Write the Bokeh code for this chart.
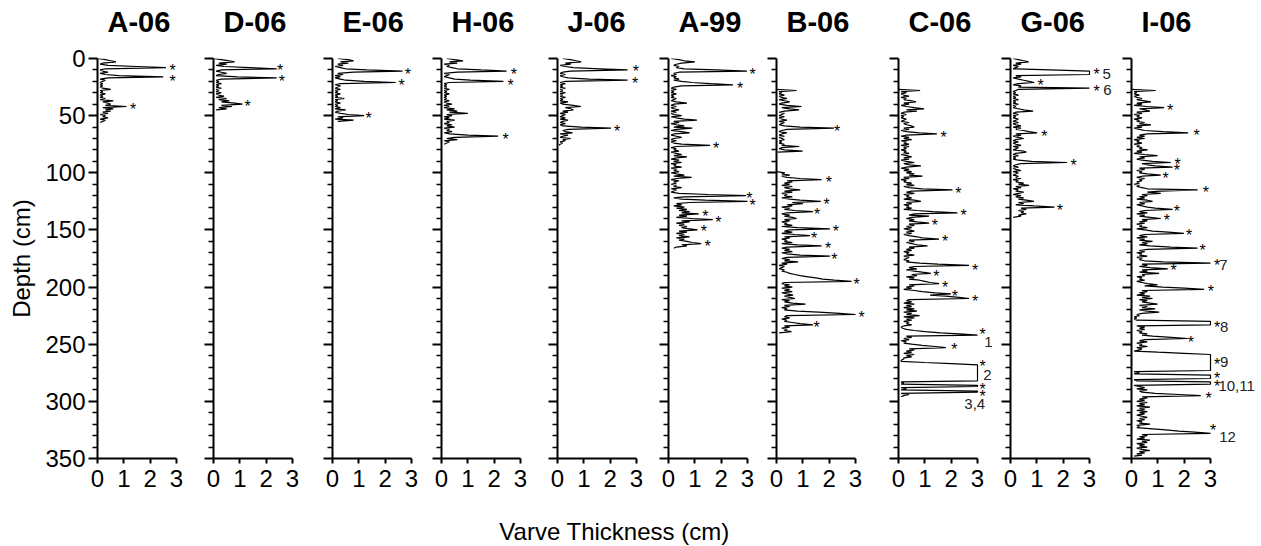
from bokeh.plotting import figure
from bokeh.layouts import row, column
from bokeh.models import Range1d, FixedTicker, Label
from bokeh.embed import file_html
from bokeh.resources import INLINE
from bokeh.core.properties import value

# ---------------- data (thickness in cm, one value per cm of depth) ----------------
CORES = ["A-06", "D-06", "E-06", "H-06", "J-06", "A-99", "B-06", "C-06", "G-06", "I-06"]

A06 = [0.0,0.3,0.5,0.7,0.2,0.1,0.4,1.5,2.6,0.3,
       0.1,0.2,0.4,0.1,0.3,0.8,2.5,0.4,0.1,0.3,
       0.2,0.1,0.2,0.1,0.2,0.1,0.2,0.5,0.1,0.2,
       0.1,0.3,0.1,0.2,0.1,0.3,0.1,0.6,0.2,0.4,
       0.5,0.3,1.1,0.2,0.6,0.3,0.5,0.2,0.4,0.1,
       0.3,0.2,0.4,0.1,0.3,0.2,0.1]
D06 = [0.0,0.3,0.6,0.8,0.2,0.5,0.1,0.4,1.4,2.4,
       0.3,0.1,0.3,0.5,0.2,0.1,0.9,2.4,0.3,0.1,
       0.2,0.1,0.3,0.1,0.2,0.1,0.3,0.1,0.2,0.1,
       0.3,0.1,0.2,0.4,0.1,0.5,0.2,0.6,0.3,0.8,
       1.1,0.3,0.7,0.2,0.5,0.1]
E06 = [0.2,0.6,0.8,0.3,0.6,0.2,0.4,0.1,0.3,0.5,
       1.3,2.66,0.8,0.2,0.4,0.1,0.3,0.1,0.3,0.5,
       1.2,2.4,0.3,0.1,0.3,0.2,0.1,0.3,0.1,0.2,
       0.1,0.3,0.1,0.2,0.1,0.45,0.1,0.2,0.1,0.3,
       0.1,0.2,0.1,0.3,0.1,0.5,0.2,0.1,0.3,0.6,
       1.2,0.2,0.4,0.1,0.8,0.2]
H06 = [0.2,0.5,0.82,0.3,0.6,0.1,0.3,0.2,0.4,0.6,
       1.5,2.47,0.6,0.1,0.3,0.2,0.1,0.3,0.5,1.1,
       2.35,0.3,0.1,0.2,0.1,0.2,0.1,0.3,0.1,0.2,
       0.1,0.3,0.1,0.2,0.1,0.2,0.1,0.3,0.1,0.2,
       0.4,0.1,0.3,0.1,0.5,0.2,0.6,0.3,1.0,0.2,
       0.4,0.1,0.3,0.1,0.5,0.2,0.3,0.1,0.4,0.2,
       0.5,0.1,0.3,0.2,0.4,0.1,0.3,1.0,2.15,0.5,
       0.2,0.6,0.1,0.3,0.2,0.1]
J06 = [0.2,0.5,0.7,0.9,0.3,0.5,0.1,0.3,0.6,1.6,
       2.66,0.5,0.2,0.1,0.3,0.1,0.2,0.4,1.2,2.66,
       0.3,0.1,0.3,0.1,0.2,0.1,0.3,0.1,0.2,0.1,
       0.3,0.1,0.2,0.1,0.3,0.1,0.2,0.1,0.4,0.1,
       0.2,0.6,0.89,0.3,0.5,0.6,0.2,0.4,0.1,0.3,
       0.2,0.1,0.3,0.1,0.4,0.2,0.1,0.3,0.1,0.2,
       0.9,2.03,0.4,0.2,0.3,0.57,0.1,0.4,0.2,0.1,
       0.5,0.2,0.3,0.1,0.2,0.1,0.05]
A99 = [0.1,0.4,0.6,1.0,0.5,0.3,0.2,0.4,0.3,0.6,
       1.8,2.98,0.4,0.2,0.3,0.1,0.3,0.2,0.4,0.2,
       0.5,0.9,1.6,2.45,0.5,0.2,0.1,0.3,0.1,0.2,
       0.1,0.3,0.1,0.2,0.1,0.3,0.2,0.1,0.3,0.7,
       0.2,0.1,0.3,0.1,0.2,0.4,0.1,0.3,0.1,0.2,
       0.5,0.1,0.3,0.6,1.08,0.2,0.4,0.1,0.3,0.6,
       0.2,0.9,0.3,0.1,0.5,0.8,0.2,0.1,0.3,0.5,
       0.2,0.1,0.3,0.1,0.2,0.5,1.58,0.3,0.1,0.3,
       0.2,0.4,0.1,0.3,0.5,0.2,0.7,0.3,0.1,0.4,
       0.2,0.5,0.1,0.3,0.2,0.5,0.1,0.3,0.2,0.4,
       0.1,0.3,0.6,0.2,0.88,0.3,0.1,0.4,0.2,0.3,
       0.1,0.3,0.2,0.5,0.1,0.3,0.2,0.1,0.4,1.5,
       2.95,0.6,0.2,0.5,1.4,3.0,0.8,0.3,0.5,0.2,
       0.6,0.3,0.7,0.4,0.8,0.5,1.15,0.4,0.7,0.3,
       0.9,1.68,0.5,0.8,0.3,0.6,0.4,0.7,0.5,0.8,
       1.1,0.4,0.7,0.3,0.6,0.4,0.8,0.3,0.6,0.4,
       0.7,0.9,1.24,0.5,0.7,0.3,0.2]
B06_UPPER = [0.0,0.76,0.1,0.2,0.1,0.3,0.1,0.2,0.4,0.1,0.3,
             0.5,0.2,0.1,0.4,0.95,0.2,0.5,0.86,0.3,0.1,
             0.3,0.2,0.1,0.3,0.1,0.2,0.4,0.1,0.3,0.2,
             0.1,0.3,0.9,2.18,0.4,0.2,0.1,0.4,0.2,0.1,
             0.3,0.1,0.2,0.3,0.1,0.2,0.1,0.3,0.2,0.86,
             0.2,0.1,0.3,0.99,0.05]
B06_LOWER = [0.0,0.32,0.2,0.5,0.2,0.4,0.9,1.71,0.4,0.6,0.3,
             0.5,0.2,0.6,0.3,0.5,0.9,0.3,0.6,0.2,0.4,
             0.3,0.6,0.2,0.5,0.9,1.68,0.6,1.0,0.4,0.6,
             0.2,0.5,0.3,0.7,1.39,0.4,0.2,0.5,0.3,0.6,
             0.76,0.3,0.5,0.2,0.4,0.3,0.6,0.2,0.8,2.03,
             0.5,0.3,0.6,0.2,0.7,1.27,0.3,0.5,0.2,0.4,
             0.3,0.6,0.2,0.8,1.71,0.4,0.2,0.5,0.3,0.6,
             0.2,0.4,0.9,2.03,0.4,0.2,0.5,0.3,0.82,0.2,
             0.4,0.1,0.3,0.2,0.1,0.3,0.2,0.4,0.5,0.7,
             0.9,1.2,1.5,1.75,2.2,2.85,0.3,0.2,0.5,0.3,
             0.6,0.2,0.5,0.3,0.6,0.2,0.4,0.63,0.3,0.5,
             0.7,0.2,0.5,0.3,0.6,1.1,0.3,0.5,0.2,0.4,
             0.3,0.8,1.6,2.4,3.0,0.4,0.3,0.5,0.2,0.4,
             0.3,0.6,0.9,1.39,0.3,0.5,0.2,0.4,0.3,0.57,
             0.1]
C06 = [0.0,0.82,0.1,0.3,0.1,0.2,0.4,0.1,0.3,0.2,0.5,0.66,0.2,
       0.4,0.1,0.3,0.6,0.97,0.3,0.7,0.2,0.1,0.3,
       0.1,0.2,0.1,0.3,0.2,0.1,0.4,0.2,0.3,0.5,
       0.6,0.2,0.4,0.1,0.3,0.8,1.46,0.3,0.1,0.4,
       0.2,0.5,0.1,0.3,0.2,0.4,0.1,0.4,0.2,0.3,
       0.1,0.3,0.2,0.4,0.1,0.3,0.5,0.2,0.4,0.1,
       0.3,0.6,0.2,0.4,0.85,0.3,0.1,0.4,0.2,0.5,
       0.3,0.6,0.4,0.91,0.2,0.4,0.1,0.3,0.2,0.5,
       0.3,0.6,0.2,0.4,0.9,2.05,0.5,0.3,0.6,0.2,
       0.4,0.3,0.5,0.2,0.6,0.85,0.3,0.5,0.2,0.4,
       0.3,0.5,0.2,0.7,1.3,2.24,0.6,0.4,1.16,0.5,
       0.3,0.6,0.4,0.7,1.16,0.4,0.6,0.3,0.5,0.2,
       0.4,0.6,0.3,0.5,0.2,0.4,0.7,0.9,1.54,0.4,
       0.6,0.3,0.5,0.7,1.1,0.4,0.6,0.3,0.5,0.2,
       0.4,0.3,0.6,0.2,0.4,0.3,0.2,0.4,0.3,0.8,
       1.5,2.68,0.6,0.4,0.7,0.3,0.6,0.9,1.23,0.5,
       0.7,0.3,0.6,0.4,0.8,1.0,1.2,1.54,0.4,0.6,
       0.3,0.5,0.2,0.6,0.9,1.4,1.99,1.2,1.8,2.3,
       2.68,0.4,0.3,0.5,0.2,0.6,0.3,0.5,0.2,0.6,
       0.3,0.7,0.2,0.5,0.3,0.8,0.2,0.6,0.3,0.5,
       0.2,0.4,0.3,0.5,0.2,0.1,0.15,0.3,0.6,1.0,
       1.6,2.3,3.0,0.3,0.5,0.2,0.4,0.1,0.3,0.2,
       0.5,0.9,1.4,1.8,0.4,0.6,0.3,0.5,0.2,0.6,
       0.3,0.5,0.2,0.2,0.1,0.1,1.0,2.0,3.0,3.0,
       3.0,3.0,3.0,3.0,3.0,3.0,3.0,3.0,3.0,3.0,
       3.0,3.0,3.0,0.1,0.2,0.1,3.0,3.0,0.1,0.3,
       0.1,3.0,3.0,0.1,0.4,0.2,0.1]
G06 = [0.1,0.3,0.5,0.69,0.2,0.4,0.1,0.3,0.2,0.1,
       1.5,3.0,3.0,3.0,3.0,0.2,0.4,0.1,0.3,0.5,
       0.7,0.9,0.3,0.1,0.4,0.3,3.0,0.3,0.2,0.1,
       0.2,0.1,0.3,0.1,0.2,0.1,0.3,0.1,0.2,0.1,
       0.3,0.1,0.2,0.1,0.3,0.5,0.86,0.2,0.1,0.3,
       0.1,0.2,0.1,0.3,0.2,0.1,0.3,0.1,0.2,0.4,
       0.1,0.4,0.2,0.5,0.7,1.01,0.2,0.4,0.1,0.3,
       0.5,0.2,0.1,0.3,0.1,0.2,0.4,0.1,0.3,0.2,
       0.1,0.5,0.6,0.2,0.1,0.3,0.1,0.2,0.1,0.3,
       0.8,2.15,0.4,0.2,0.1,0.3,0.1,0.2,0.4,0.1,
       0.3,0.2,0.1,0.3,0.2,0.4,0.1,0.3,0.2,0.5,
       0.3,0.7,0.2,0.4,0.1,0.3,0.2,0.5,0.3,0.1,
       0.4,0.2,0.5,0.3,0.6,0.89,0.3,0.5,0.2,0.9,
       1.67,0.4,0.6,0.3,0.5,0.4,0.6,0.3,0.4,0.1]
I06 = [0.0,0.92,0.1,0.2,0.1,0.3,0.1,0.2,0.4,0.2,0.5,0.74,0.2,
       0.4,0.1,0.6,1.24,0.3,0.5,0.7,0.2,0.4,0.1,
       0.3,0.2,0.4,0.1,0.3,0.2,0.5,0.3,0.74,0.2,
       0.4,0.1,0.3,0.5,1.2,2.15,0.6,0.3,0.5,0.2,
       0.5,0.1,0.3,0.2,0.4,0.1,0.3,0.2,0.4,0.3,
       0.61,0.2,0.4,0.1,0.5,0.99,0.3,0.5,0.2,0.4,
       0.8,1.49,0.4,0.6,0.9,1.56,0.3,0.5,0.2,0.4,
       0.3,0.6,1.11,0.4,0.2,0.5,0.3,0.4,0.2,0.3,
       0.1,0.3,0.2,0.4,0.6,2.51,1.1,0.6,1.11,0.4,
       0.6,0.3,0.5,0.2,0.6,0.8,0.3,0.5,0.2,0.4,
       0.6,0.9,1.56,0.5,0.3,0.6,0.2,0.5,0.3,0.7,
       1.11,0.4,0.6,0.3,0.5,0.2,0.4,0.3,0.6,0.2,
       0.5,0.8,1.4,1.99,0.5,0.3,0.6,0.2,0.5,0.3,
       0.8,0.4,0.6,0.3,0.7,1.5,2.51,0.6,0.3,0.5,
       0.2,0.4,0.3,0.6,0.2,0.4,0.3,0.5,1.2,3.0,
       0.4,0.6,0.3,0.7,1.38,0.4,0.6,0.3,1.05,0.4,
       0.5,0.2,0.4,0.3,0.5,0.2,0.4,0.6,0.99,0.5,
       1.2,2.0,2.76,0.4,0.6,0.3,0.5,0.2,0.7,0.4,
       0.8,0.3,0.6,0.4,0.7,0.99,0.3,0.6,0.4,0.9,
       0.3,0.6,1.05,0.4,0.2,0.3,0.1,0.2,0.1,0.2,
       3.0,3.0,3.0,3.0,0.2,0.5,0.3,0.5,0.2,0.4,
       0.3,0.6,0.4,0.8,1.5,2.13,0.5,0.3,0.6,0.2,
       0.4,0.3,0.61,0.2,0.4,0.3,0.1,1.0,2.0,3.0,
       3.0,3.0,3.0,3.0,3.0,3.0,3.0,3.0,3.0,3.0,
       3.0,3.0,3.0,3.0,0.1,0.3,0.1,3.0,3.0,3.0,
       3.0,0.1,0.2,3.0,3.0,3.0,0.1,0.3,0.5,0.2,
       0.6,0.3,0.4,0.9,1.8,2.63,0.4,0.6,0.3,0.5,
       0.2,0.6,0.3,0.5,0.2,0.7,0.3,0.5,0.2,0.6,
       0.3,0.5,0.2,0.4,0.6,0.3,0.5,0.2,0.4,0.3,
       0.7,0.2,0.3,0.2,0.8,1.3,1.8,2.4,3.0,0.4,
       0.6,0.3,0.5,0.2,0.7,0.4,0.6,0.2,0.5,0.3,
       0.6,0.2,0.4,0.7,0.3,0.5,0.2,0.4,0.1]

# (top depth in cm, thickness list) for each continuous section of a core
SECTIONS = {
    "A-06": [(0, A06)], "D-06": [(0, D06)], "E-06": [(0, E06)],
    "H-06": [(0, H06)], "J-06": [(0, J06)], "A-99": [(0, A99)],
    "B-06": [(27, B06_UPPER), (99, B06_LOWER)], "C-06": [(27, C06)],
    "G-06": [(0, G06)], "I-06": [(27, I06)],
}

# marked events: (depth, thickness position of the asterisk)
STARS = {
    "A-06": [(8.7,2.85),(18.4,2.85),(42.8,1.35)],
    "D-06": [(8.5,2.53),(18.3,2.6),(40.5,1.3)],
    "E-06": [(12,2.86),(22.2,2.62),(50.5,1.37)],
    "H-06": [(12,2.75),(21.6,2.62),(69.4,2.43)],
    "J-06": [(9.6,2.98),(19.8,2.95),(62.4,2.26)],
    "A-99": [(12,3.19),(24.2,2.72),(76.7,1.81),(120.7,3.07),(126.6,3.19),(136.8,1.4),
             (141.7,1.89),(149.9,1.34),(163,1.49)],
    "B-06": [(61.8,2.3),(106.6,1.99),(125.7,1.9),(135,1.54),(149.6,2.25),(155.5,1.43),
             (164.2,1.96),(174,2.2),(196.2,3.04),(224.9,3.23),(233.6,1.52)],
    "C-06": [(67.4,1.71),(116,2.27),(136,2.47),(144.6,1.38),(158.7,1.77),(183.5,2.91),
             (189.3,1.44),(198.6,1.77),(206.5,2.14),(210.9,2.91),(239.5,3.19),(253,2.12),
             (268,3.19),(287.5,3.19),(294,3.19)],
    "G-06": [(12,3.27),(21.6,1.14),(27.1,3.27),(66.8,1.29),(92,2.4),(131.5,1.87)],
    "I-06": [(44,1.47),(65.9,2.47),(91.3,1.75),(96.5,1.72),(103,1.3),(115.5,2.82),
             (132.4,1.72),(140.3,1.34),(152.8,2.19),(166.5,2.7),(179.7,3.25),(184,1.6),
             (202.4,3.01),(233.6,3.25),(246.7,2.25),(265.7,3.25),(278.2,3.25),(285.2,3.25),
             (295.8,2.93),(323.5,3.1)],
}

# numbered events: (text, depth, thickness position of the text's left edge)
NUMBERS = {
    "C-06": [("1", 247.7, 3.26), ("2", 276.8, 3.22), ("3,4", 302.7, 2.5)],
    "G-06": [("5", 13.4, 3.49), ("6", 27.4, 3.52)],
    "I-06": [("7", 180.5, 3.33), ("8", 234.5, 3.36), ("9", 265.7, 3.36),
             ("10,11", 286.7, 3.3), ("12", 331.3, 3.33)],
}

Y_MAJOR = [0, 50, 100, 150, 200, 250, 300, 350]
Y_MINOR = [10, 20, 30, 40, 60, 70, 80, 90, 110, 120, 130, 140, 160, 170, 180, 190,
           210, 220, 230, 240, 260, 270, 280, 290, 310, 320, 330, 340]
X_TICKS = [0, 1, 2, 3]

# ---------------- layout ----------------
FONT = "Liberation Sans"
PXU = 79 / 3.0                      # pixels per cm of thickness
AXIS_PX = [97, 213, 332, 441, 557, 668, 776, 898, 1010, 1131]
TOTAL_W = 1261
TITLE_H = 45
TOP, FRAME_H, BOTTOM = 13, 400, 40
LABEL_H = 47


def bare_figure(h):
    f = figure(width=TOTAL_W, height=h, x_range=Range1d(0, TOTAL_W),
               y_range=Range1d(h, 0), min_border=0, output_backend="svg",
               toolbar_location=None, tools="")
    f.axis.visible = False
    f.xgrid.visible = False
    f.ygrid.visible = False
    f.outline_line_color = None
    return f


# core names above the panels
head = bare_figure(TITLE_H)
for i, name in enumerate(CORES):
    head.add_layout(Label(x=AXIS_PX[i] + 10, y=21, text=name, text_font=FONT,
                          text_font_size="29px", text_font_style="bold",
                          text_color="black", text_align="left",
                          text_baseline="middle"))

figs = []
for i, name in enumerate(CORES):
    left = AXIS_PX[0] if i == 0 else 16
    end = AXIS_PX[i + 1] - 16 if i < len(CORES) - 1 else TOTAL_W
    fw = end - AXIS_PX[i]
    p = figure(frame_width=fw, frame_height=FRAME_H,
               x_range=Range1d(0, fw / PXU), y_range=Range1d(350, 0),
               min_border_left=left, min_border_right=0, min_border_top=TOP,
               min_border_bottom=BOTTOM, output_backend="svg",
               toolbar_location=None, tools="")
    p.outline_line_color = None
    p.xgrid.visible = False
    p.ygrid.visible = False
    p.background_fill_color = "white"
    p.border_fill_color = "white"

    ya = p.yaxis[0]
    ya.ticker = FixedTicker(ticks=Y_MAJOR, minor_ticks=Y_MINOR)
    ya.axis_line_width = 2
    ya.axis_line_color = "black"
    ya.major_tick_line_width = 2
    ya.major_tick_line_color = "black"
    ya.minor_tick_line_width = 1.5
    ya.minor_tick_line_color = "black"
    ya.major_tick_out = 9
    ya.major_tick_in = 0
    ya.minor_tick_out = 5
    ya.minor_tick_in = 0
    ya.major_label_text_font = FONT
    ya.major_label_standoff = 3
    if i == 0:
        ya.major_label_text_font_size = "24px"
        ya.major_label_text_color = "black"
        ya.axis_label = "Depth (cm)"
        ya.axis_label_text_font = FONT
        ya.axis_label_text_font_size = "24px"
        ya.axis_label_text_font_style = "normal"
        ya.axis_label_text_color = "black"
        ya.axis_label_standoff = 7
    else:
        ya.major_label_text_font_size = "0px"
        ya.major_label_text_color = None

    xa = p.xaxis[0]
    xa.ticker = FixedTicker(ticks=X_TICKS)
    xa.bounds = (0, 3)
    xa.axis_line_width = 2
    xa.axis_line_color = "black"
    xa.major_tick_line_width = 2
    xa.major_tick_line_color = "black"
    xa.minor_tick_line_color = None
    xa.major_tick_out = 5
    xa.major_tick_in = 0
    xa.major_label_text_font = FONT
    xa.major_label_text_font_size = "24px"
    xa.major_label_text_color = "black"
    xa.major_label_standoff = 6

    for top, vals in SECTIONS[name]:
        depths = [top + k for k in range(len(vals))]
        p.line(x=vals, y=depths, line_color="black", line_width=1.2)

    st = STARS.get(name, [])
    if st:
        p.text(x=[s[1] for s in st], y=[s[0] for s in st], text=["*"] * len(st),
               text_font=value(FONT), text_font_size="16px", text_color="black",
               text_align="center", text_baseline="alphabetic", y_offset=2)
    nb = NUMBERS.get(name, [])
    if nb:
        p.text(x=[n[2] for n in nb], y=[n[1] for n in nb], text=[n[0] for n in nb],
               text_font=value(FONT), text_font_size="15px", text_color="#222222",
               text_align="left", text_baseline="middle")
    figs.append(p)

foot = bare_figure(LABEL_H)
foot.add_layout(Label(x=614, y=33, text="Varve Thickness (cm)", text_font=FONT,
                      text_font_size="24px", text_color="black", text_align="center",
                      text_baseline="middle"))

layout = column(head, row(*figs, spacing=0), foot, spacing=0)
open("out.html", "w").write(file_html(layout, INLINE))
